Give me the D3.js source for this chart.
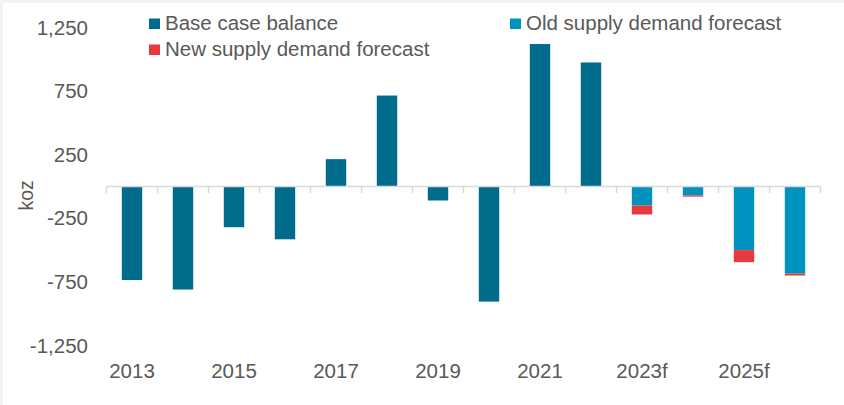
<!DOCTYPE html>
<html>
<head>
<meta charset="utf-8">
<script src="https://cdn.jsdelivr.net/npm/d3@7"></script>
<style>
  html, body { margin: 0; padding: 0; background: #f2f2f2; }
  svg { display: block; }
</style>
</head>
<body>
<div id="chart"></div>
<script>
// balance chart, koz, bars + forecast stack

const years = ["2013", "2014", "2015", "2016", "2017", "2018", "2019", "2020",
  "2021", "2022", "2023f", "2024f", "2025f", "2026f"];
const tickYears = ["2013", "2015", "2017", "2019", "2021", "2023f", "2025f"];

// base case (actuals), forecasts years are null here
const baseCase = [-735, -810, -320, -415, 215, 715, -110, -905, 1120, 975, null, null, null, null];

// forecasts, only for the f years
const forecastYears = ["2023f", "2024f", "2025f", "2026f"];
const oldForecast = [-150, -70, -500, -685];
const newForecast = [-220, -80, -595, -700];

const yTicks = [-1250, -750, -250, 250, 750, 1250];

const seriesNames = ["Base case balance", "Old supply demand forecast", "New supply demand forecast"];
const seriesColors = ["#006c8c", "#0093bf", "#e8393e"];

const W = 844, H = 405;
const FONT = "'Liberation Sans', Arial, sans-serif";
const TXT = "#595959";

// plain hyphen for negatives, like excel does
const fmt = d3.formatLocale({ decimal: ".", thousands: ",", grouping: [3], currency: ["", ""], minus: "-" }).format(",");

const svg = d3.select("#chart").append("svg")
  .attr("width", W)
  .attr("height", H);

// white plot card, gray strip on top/left like the screenshot
svg.append("rect")
  .attr("x", 3).attr("y", 3)
  .attr("width", W - 3).attr("height", H - 3)
  .attr("fill", "#ffffff");

const x = d3.scaleBand()
  .domain(years)
  .range([106.5, 820.5])
  .paddingInner(0.6)
  .paddingOuter(0.3);

const y = d3.scaleLinear()
  .domain([-1250, 1250])
  .range([345.5, 27.5]);

// y labels, no gridlines
svg.append("g").selectAll("text")
  .data(yTicks)
  .join("text")
  .attr("x", 88)
  .attr("y", d => y(d))
  .attr("dy", "0.35em")
  .attr("text-anchor", "end")
  .attr("font-family", FONT)
  .attr("font-size", 20.5)
  .attr("fill", TXT)
  .text(d => fmt(d));

svg.append("text")
  .attr("transform", `translate(33,${y(-70)}) rotate(-90)`)
  .attr("text-anchor", "middle")
  .attr("font-family", FONT)
  .attr("font-size", 19.5)
  .attr("fill", TXT)
  .text("koz");

// base bars
const baseRows = years.map((yr, i) => ({ year: yr, v: baseCase[i] })).filter(d => d.v !== null);
svg.append("g").selectAll("rect")
  .data(baseRows)
  .join("rect")
  .attr("x", d => x(d.year))
  .attr("width", x.bandwidth())
  .attr("y", d => y(Math.max(0, d.v)))
  .attr("height", d => Math.abs(y(d.v) - y(0)))
  .attr("fill", seriesColors[0]);

// forecast: old from zero, red is the extra drop to the new one
const fcRows = forecastYears.map((yr, i) => ({ year: yr, old: oldForecast[i], nw: newForecast[i] }));
const fc = svg.append("g");
fc.selectAll("rect.old")
  .data(fcRows)
  .join("rect")
  .attr("class", "old")
  .attr("x", d => x(d.year))
  .attr("width", x.bandwidth())
  .attr("y", y(0))
  .attr("height", d => y(d.old) - y(0))
  .attr("fill", seriesColors[1]);

fc.selectAll("rect.nw")
  .data(fcRows)
  .join("rect")
  .attr("class", "nw")
  .attr("x", d => x(d.year))
  .attr("width", x.bandwidth())
  .attr("y", d => y(d.old))
  .attr("height", d => Math.max(0, y(d.nw) - y(d.old)))
  .attr("fill", seriesColors[2]);

// zero axis with ticks between categories
const axisG = svg.append("g");
const step = x.step();
const x0 = x.range()[0];
axisG.append("line")
  .attr("x1", x0).attr("x2", x.range()[1])
  .attr("y1", y(0)).attr("y2", y(0))
  .attr("stroke", "#d9d9d9")
  .attr("stroke-width", 1.5);

axisG.selectAll("line.tk")
  .data(d3.range(years.length + 1))
  .join("line")
  .attr("class", "tk")
  .attr("x1", i => x0 + i * step)
  .attr("x2", i => x0 + i * step)
  .attr("y1", y(0))
  .attr("y2", y(0) + 6.5)
  .attr("stroke", "#d9d9d9")
  .attr("stroke-width", 1.5);

// x labels, every other year
svg.append("g").selectAll("text")
  .data(tickYears)
  .join("text")
  .attr("x", d => x(d) + x.bandwidth() / 2)
  .attr("y", 377.5)
  .attr("text-anchor", "middle")
  .attr("font-family", FONT)
  .attr("font-size", 20.5)
  .attr("fill", TXT)
  .text(d => d);

// legend, two columns like the original
const legPos = [[149, 18.5], [510, 18.5], [149, 44.5]];
const leg = svg.append("g").selectAll("g")
  .data(seriesNames)
  .join("g")
  .attr("transform", (d, i) => `translate(${legPos[i][0]},${legPos[i][1]})`);

leg.append("rect")
  .attr("width", 11)
  .attr("height", 10.5)
  .attr("fill", (d, i) => seriesColors[i]);

leg.append("text")
  .attr("x", 16)
  .attr("y", 11.5)
  .attr("font-family", FONT)
  .attr("font-size", 20.5)
  .attr("fill", TXT)
  .text(d => d);
</script>
</body>
</html>
